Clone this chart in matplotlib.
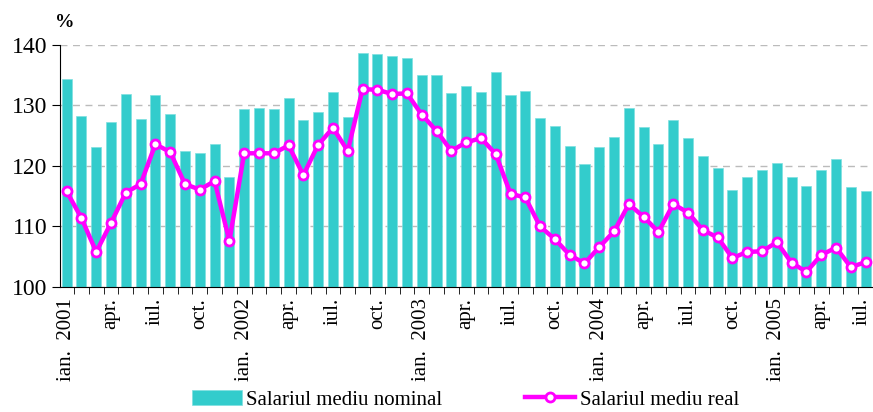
import numpy as np
import matplotlib.pyplot as plt
import matplotlib.transforms as mtransforms
from matplotlib.ticker import FixedLocator

plt.rcParams['font.family'] = ['Liberation Serif', 'DejaVu Serif']

# Monthly data, ian. 2001 - iul. 2005 (%)
months = ['ian.', 'feb.', 'mar.', 'apr.', 'mai', 'iun.',
          'iul.', 'aug.', 'sep.', 'oct.', 'nov.', 'dec.']
years = [2001, 2002, 2003, 2004, 2005]

nominal = [134.4, 128.2, 123.1, 127.3, 131.9, 127.8, 131.8, 128.6, 122.5, 122.1, 123.6, 118.2,
           129.5, 129.6, 129.5, 131.3, 127.6, 128.9, 132.2, 128.1, 138.6, 138.5, 138.1, 137.9,
           135.1, 135.1, 132.1, 133.2, 132.3, 135.6, 131.8, 132.4, 128.0, 126.6, 123.3, 120.3,
           123.2, 124.8, 129.6, 126.4, 123.6, 127.6, 124.7, 121.7, 119.7, 116.0, 118.1, 119.3,
           120.5, 118.2, 116.7, 119.3, 121.2, 116.5, 115.8]
real = [115.8, 111.4, 105.8, 110.6, 115.6, 117.0, 123.6, 122.3, 117.0, 116.1, 117.5, 107.6,
        122.1, 122.1, 122.1, 123.4, 118.5, 123.5, 126.3, 122.5, 132.7, 132.6, 131.9, 132.0,
        128.5, 125.8, 122.5, 123.9, 124.6, 122.0, 115.4, 114.8, 110.0, 107.9, 105.3, 103.9,
        106.6, 109.2, 113.7, 111.6, 109.1, 113.7, 112.3, 109.4, 108.2, 104.8, 105.8, 105.9,
        107.4, 104.0, 102.5, 105.3, 106.5, 103.3, 104.1]

n = len(nominal)
x = np.arange(n)
labels = []
for i in range(n):
    m = i % 12
    if m == 0:
        labels.append('ian.  %d' % years[i // 12])
    elif m % 3 == 0:
        labels.append(months[m])
    else:
        labels.append('')

fig = plt.figure(figsize=(8.73, 4.12), dpi=100)
ax = fig.add_axes([0.0687, 0.3034, 0.9313, 0.5874])

bars = ax.bar(x, nominal, width=0.68, color='#33CCCC', edgecolor='#7FE0E0', linewidth=0.5,
              label='Salariul mediu nominal', zorder=2)
line, = ax.plot(x, real, color='#FF00FF', linewidth=3.2, marker='o', markersize=6.5,
                markerfacecolor='white', markeredgecolor='#FF00FF', markeredgewidth=2,
                label='Salariul mediu real', zorder=3)

ax.set_ylim(100, 140)
ax.set_yticks([100, 110, 120, 130, 140])
ax.set_xlim(-0.45, n - 0.5)
ax.yaxis.grid(True, linestyle=(0, (5, 4)), color='#BBBBBB', linewidth=1, zorder=0)
ax.set_axisbelow(True)

ax.set_xticks(x)
ax.set_xticklabels(labels, rotation=90, fontsize=15)
ax.xaxis.set_minor_locator(FixedLocator(np.arange(-0.5, n, 1.0)))
ax.tick_params(axis='x', which='major', direction='in', length=4, pad=8)
ax.tick_params(axis='x', which='minor', direction='out', length=5)
ax.tick_params(axis='y', direction='out', length=6, labelsize=17, pad=3)

# keep the last month label inside the figure edge
last = ax.get_xticklabels()[-1]
last.set_transform(last.get_transform() + mtransforms.ScaledTranslation(-4 / 100, 0, fig.dpi_scale_trans))

for s in ['top', 'right']:
    ax.spines[s].set_visible(False)

fig.text(0.063, 0.925, '%', fontsize=14, fontweight='bold', ha='left', va='bottom')

fig.legend([bars, line], ['Salariul mediu nominal', 'Salariul mediu real'],
           loc='lower center', bbox_to_anchor=(0.533, -0.04), ncol=2, frameon=False,
           fontsize=15, handlelength=2.4, handleheight=0.75, columnspacing=4,
           handletextpad=0.2, numpoints=1)

fig.savefig('out.png', dpi=100)
